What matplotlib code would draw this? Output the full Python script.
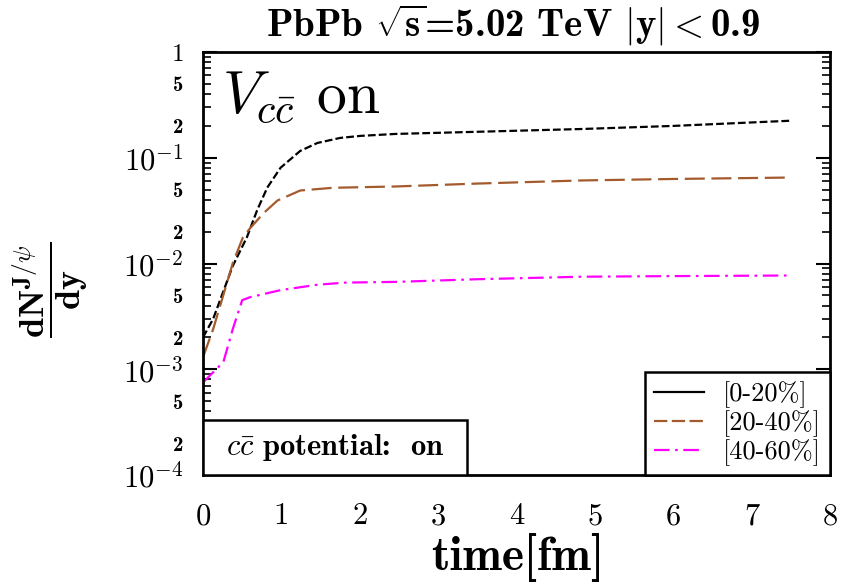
import matplotlib
matplotlib.use("Agg")
import matplotlib.pyplot as plt
from matplotlib.lines import Line2D
from matplotlib.patches import Rectangle
from matplotlib.ticker import FixedLocator, FixedFormatter

plt.rcParams['mathtext.fontset'] = 'cm'
plt.rcParams['font.family'] = ['cmr10', 'DejaVu Serif']
plt.rcParams['axes.unicode_minus'] = False

# ---- data ----
t_0_20 = [0.0, 0.13, 0.38, 0.56, 0.69, 0.82, 0.99, 1.24, 1.46, 1.75, 2.01, 2.46, 3.5, 4.83, 6.0, 7.5]
y_0_20 = [2.0e-3, 3.0e-3, 9.5e-3, 1.77e-2, 3.18e-2, 5.22e-2, 8.05e-2, 0.116, 0.138, 0.154, 0.161, 0.168, 0.176, 0.187, 0.200, 0.224]

t_20_40 = [0.0, 0.13, 0.24, 0.38, 0.51, 0.6, 0.77, 0.95, 1.24, 1.66, 2.46, 3.5, 4.83, 6.0, 7.5]
y_20_40 = [1.3e-3, 2.4e-3, 4.5e-3, 1.01e-2, 1.77e-2, 2.15e-2, 2.98e-2, 3.94e-2, 4.9e-2, 5.2e-2, 5.35e-2, 5.7e-2, 6.1e-2, 6.3e-2, 6.5e-2]

t_40_60 = [0.0, 0.26, 0.38, 0.5, 0.6, 0.99, 1.46, 1.82, 2.46, 3.5, 4.83, 6.0, 7.5]
y_40_60 = [7.5e-4, 1.17e-3, 2.4e-3, 4.5e-3, 4.8e-3, 5.6e-3, 6.3e-3, 6.6e-3, 6.7e-3, 7.1e-3, 7.5e-3, 7.6e-3, 7.7e-3]

labels = ['[0-20%]', '[20-40%]', '[40-60%]']
colors = ['black', '#A35A2C', '#FF00FF']

x_ticks = [0, 1, 2, 3, 4, 5, 6, 7, 8]
y_major = [1e-4, 1e-3, 1e-2, 1e-1, 1.0]
y_major_labels = [r'$10^{-4}$', r'$10^{-3}$', r'$10^{-2}$', r'$10^{-1}$', r'$1$']

fig = plt.figure(figsize=(8.5, 5.85), dpi=100)
ax = fig.add_axes([203/850, 1-475/585, 627/850, 423/585])

ax.plot(t_0_20, y_0_20, color=colors[0], lw=1.6, dashes=[3.5, 1.4])
ax.plot(t_20_40, y_20_40, color=colors[1], lw=1.6, dashes=[9, 3])
ax.plot(t_40_60, y_40_60, color=colors[2], lw=1.6, dashes=[7, 2.5, 1.2, 2.5])

ax.set_yscale('log')
ax.set_xlim(0, 8)
ax.set_ylim(1e-4, 1)

# y ticks
minor_pos = []
minor_lab = []
for d in [1e-4, 1e-3, 1e-2, 1e-1]:
    for m in range(2, 10):
        minor_pos.append(m * d)
        minor_lab.append(str(m) if m in (2, 5) else '')
ax.yaxis.set_major_locator(FixedLocator(y_major))
ax.yaxis.set_major_formatter(FixedFormatter(y_major_labels))
ax.yaxis.set_minor_locator(FixedLocator(minor_pos))
ax.yaxis.set_minor_formatter(FixedFormatter(minor_lab))
ax.tick_params(axis='y', which='major', direction='in', length=10, width=1.5,
               labelsize=22, pad=14, right=True)
ax.tick_params(axis='y', which='minor', direction='in', length=6, width=1.2,
               labelsize=15, pad=14, right=True)
for lab in ax.get_yticklabels(which='minor'):
    lab.set_fontfamily('cmb10')
ax.get_yticklabels()[-1].set_fontsize(18)

ax.set_xticks(x_ticks)
ax.set_xticklabels([str(v) for v in x_ticks])
ax.tick_params(axis='x', which='both', length=0, labelsize=22, pad=20)

for s in ax.spines.values():
    s.set_linewidth(2)

# texts
fig.text(513/850, 1-25/585, r'PbPb $\sqrt{\mathbf{s}}$=5.02 TeV $|\mathbf{y}|<$0.9',
         ha='center', va='center', fontsize=28, fontfamily='cmb10')
fig.text(518/850, 1-558/585, 'time[fm]', ha='center', va='center', fontsize=34,
         fontfamily='cmb10')
fig.text(50/850, 1-290/585, r'$\dfrac{\mathbf{dN}^{\mathbf{J}/\psi}}{\mathbf{dy}}$',
         ha='center', va='center', rotation=90, fontsize=26)

ax.text(0.03, 0.855, r'$V_{c\bar{c}}$ on', transform=ax.transAxes, fontsize=43,
        ha='left', va='baseline')

# potential box
ax.add_patch(Rectangle((0, 0), (467-203)/627, (475-420)/423, transform=ax.transAxes,
                       fill=True, facecolor='white', edgecolor='black', lw=1.8, zorder=5))
ax.text(0.5*(467-203)/627, 0.5*(475-420)/423, r'$c\bar{c}$ potential:  on',
        transform=ax.transAxes, ha='center', va='center', fontsize=22,
        fontfamily='cmb10', zorder=6)

handles = [Line2D([], [], color=colors[0], lw=1.6),
           Line2D([], [], color=colors[1], lw=1.6, dashes=[6, 2]),
           Line2D([], [], color=colors[2], lw=1.6, dashes=[7, 2.5, 1.2, 2.5])]
leg = ax.legend(handles, labels, loc='lower right', bbox_to_anchor=(1, 0),
                bbox_transform=ax.transAxes, borderaxespad=0, fontsize=19,
                fancybox=False, framealpha=1, edgecolor='black', handlelength=1.9,
                labelspacing=0.08, borderpad=0.35, handletextpad=0.7)
leg.get_frame().set_linewidth(1.8)
leg.set_zorder(7)

fig.savefig('out.png', dpi=100)
